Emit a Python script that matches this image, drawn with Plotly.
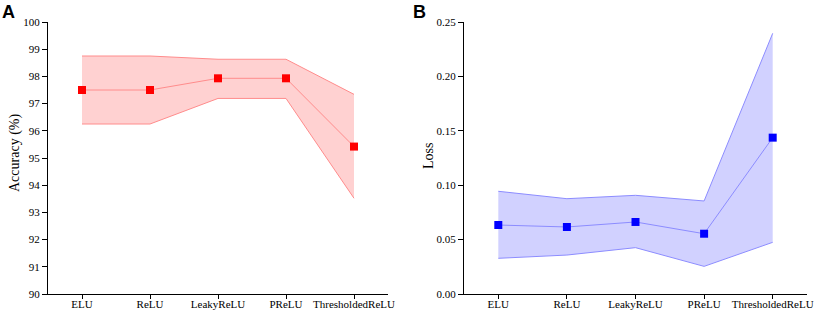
import plotly.graph_objects as go

categories = ["ELU", "ReLU", "LeakyReLU", "PReLU", "ThresholdedReLU"]

acc_mean = [97.5, 97.5, 97.93, 97.93, 95.42]
acc_upper = [98.75, 98.75, 98.63, 98.63, 97.34]
acc_lower = [96.25, 96.25, 97.19, 97.19, 93.52]

loss_mean = [0.0634, 0.0616, 0.0662, 0.0554, 0.1437]
loss_upper = [0.0944, 0.0876, 0.0907, 0.0855, 0.2396]
loss_lower = [0.0328, 0.0358, 0.0426, 0.0254, 0.0475]

acc_ticks = list(range(90, 101))
loss_ticks = [0.0, 0.05, 0.10, 0.15, 0.20, 0.25]
loss_ticktext = ["0.00", "0.05", "0.10", "0.15", "0.20", "0.25"]

RED_LINE = "#ff8c8c"
RED_FILL = "rgba(255,0,0,0.18)"
BLUE_LINE = "#8c8cff"
BLUE_FILL = "rgba(0,0,255,0.18)"

fig = go.Figure()

def add_panel(mean, upper, lower, line_col, fill_col, marker_col, xa, ya):
    fig.add_trace(go.Scatter(x=categories, y=lower, mode="lines",
                             line=dict(color=line_col, width=1),
                             xaxis=xa, yaxis=ya, showlegend=False, hoverinfo="skip"))
    fig.add_trace(go.Scatter(x=categories, y=upper, mode="lines",
                             line=dict(color=line_col, width=1), fill="tonexty",
                             fillcolor=fill_col,
                             xaxis=xa, yaxis=ya, showlegend=False, hoverinfo="skip"))
    fig.add_trace(go.Scatter(x=categories, y=mean, mode="lines+markers",
                             line=dict(color=line_col, width=1),
                             marker=dict(symbol="square", size=8, color=marker_col),
                             xaxis=xa, yaxis=ya, showlegend=False))

add_panel(acc_mean, acc_upper, acc_lower, RED_LINE, RED_FILL, "#ff0000", "x", "y")
add_panel(loss_mean, loss_upper, loss_lower, BLUE_LINE, BLUE_FILL, "#0000ff", "x2", "y2")

tick_font = dict(family="Liberation Serif", size=11, color="black")

W, H = 816, 312
ML, MR, MT, MB = 48, 9, 22, 18
PW = W - ML - MR
PH = H - MT - MB

xaxis_common = dict(type="category", range=[-0.5, 4.5], showline=True, linecolor="black",
                    linewidth=1, ticks="outside", ticklen=4, tickcolor="black",
                    showgrid=False, zeroline=False, tickfont=tick_font, automargin=False,
                    ticklabelstandoff=-4)
yaxis_common = dict(showline=True, linecolor="black", linewidth=1, ticks="outside",
                    ticklen=5, tickcolor="black", showgrid=False, zeroline=False,
                    tickfont=tick_font, automargin=False)

fig.update_layout(
    width=W, height=H,
    margin=dict(l=ML, r=MR, t=MT, b=MB, autoexpand=False),
    paper_bgcolor="white", plot_bgcolor="white",
    xaxis=dict(domain=[0, (388 - ML) / PW], anchor="y", **xaxis_common),
    xaxis2=dict(domain=[(464 - ML) / PW, 1], anchor="y2", **xaxis_common),
    yaxis=dict(domain=[0, 1], anchor="x", range=[90, 100], tickvals=acc_ticks, **yaxis_common),
    yaxis2=dict(domain=[0, 1], anchor="x2", range=[0, 0.25], tickvals=loss_ticks,
                ticktext=loss_ticktext, **yaxis_common),
)

def px_to_paper_x(px):
    return (px - ML) / PW

def px_to_paper_y(py):
    return (H - MB - py) / PH

fig.add_annotation(text="<b>A</b>", x=px_to_paper_x(0), y=px_to_paper_y(0),
                   xref="paper", yref="paper", xanchor="left", yanchor="top",
                   showarrow=False, font=dict(family="Liberation Sans", size=18, color="black"))
fig.add_annotation(text="<b>B</b>", x=px_to_paper_x(411), y=px_to_paper_y(0),
                   xref="paper", yref="paper", xanchor="left", yanchor="top",
                   showarrow=False, font=dict(family="Liberation Sans", size=18, color="black"))
fig.add_annotation(text="Accuracy (%)", x=px_to_paper_x(15), y=px_to_paper_y(153),
                   xref="paper", yref="paper", textangle=-90, showarrow=False,
                   xanchor="center", yanchor="middle",
                   font=dict(family="Liberation Serif", size=14, color="black"))
fig.add_annotation(text="Loss", x=px_to_paper_x(428), y=px_to_paper_y(156),
                   xref="paper", yref="paper", textangle=-90, showarrow=False,
                   xanchor="center", yanchor="middle",
                   font=dict(family="Liberation Serif", size=14, color="black"))

fig.write_html("out.html", config={"displayModeBar": False},
               post_script="document.body.style.margin='0';document.body.style.overflow='hidden';")
